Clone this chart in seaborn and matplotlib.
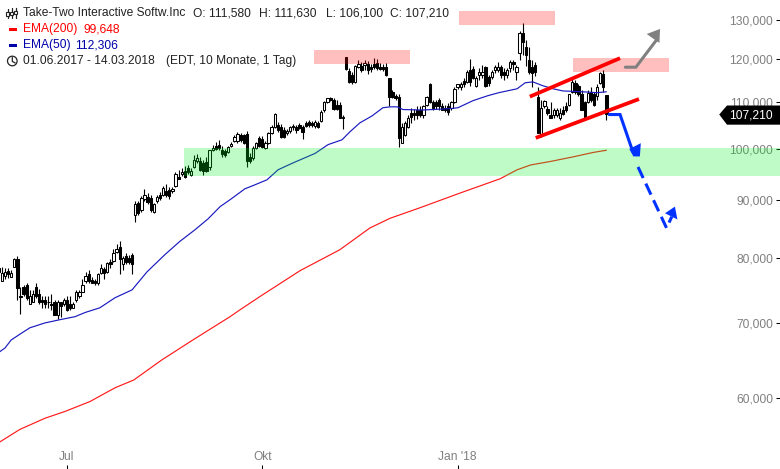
import matplotlib
matplotlib.use("Agg")
import matplotlib.pyplot as plt
from matplotlib.transforms import Affine2D
from matplotlib.patches import Circle, Rectangle
import numpy as np
import pandas as pd
import seaborn as sns

# Daily candles (prices in thousands of the quote unit), one per trading day
opens = [78.4,76.2,77.1,77.9,76.9,78.5,79.7,73.9,75.4,75.6,72.7,73.1,75.4,74.2,73.4,73.3,73,72.7,73.1,71.2,
73,72.7,73.4,72.8,72.2,73.3,73.9,74.5,76.2,77.3,76.5,76.3,75.9,77.6,78.2,77.7,79.3,79.5,81,81.8,
79,80.2,80,80.5,87.2,89.5,88.1,90.2,90.6,90.4,87.9,89.9,91,91,91.7,91.9,91.7,92.6,94.4,95,
95.6,96,94.8,96.2,97.5,97.5,97.1,97.3,96.2,99.6,100.6,100.8,99.8,99.4,99.2,100.6,101.6,101.6,102.9,102.9,
103.1,98.2,98,100.2,102.2,102,100.2,101.2,103.3,104.6,105,104.6,103.9,103.3,103.7,104.8,104.6,105,104.6,105.4,
105.6,105.4,104.8,105.4,105.9,108.1,109.9,111,110.5,109.4,109.4,106.7,120.6,117.2,116.3,114.6,118.2,118.4,118.7,118.9,
118.2,118.9,119.2,118.2,118.2,118.2,115.6,112.3,111.4,111.2,101.2,102.9,104.6,107.6,107.6,108.1,108.3,107.2,109.4,114,
109.9,109.9,110.5,109,108.7,109,108.7,109.9,113.3,113.5,114.9,114.6,117.5,117.7,113.7,116.3,116.3,118.2,115.8,115.8,
117.5,117.5,118.2,117,116.3,117.9,119.4,117,121.6,126.7,123.1,119.9,118.2,118.7,111.2,102.6,109,108.5,107,107.2,
107.2,106.5,108.3,109,109.4,112.3,114.4,113.7,111.7,109.9,109.9,112.3,111.7,111.4,114.4,116.5,111.58]
highs = [78.7,78.5,78.4,78.4,78,80,80.3,75.4,75.7,75.9,74.9,74.8,75.9,75.1,74,73.9,74,74.2,73.3,73.4,
73.1,73.6,73.9,73.9,73.1,74.9,74.8,76.6,77.7,78,76.9,76.6,77.6,79,78.5,79.3,79.7,81.5,82.3,82.8,
80.3,80.7,80.5,80.8,89.9,89.9,90.8,92.1,91.3,91,89.5,91,91.5,92.6,93,92.4,92.4,95.4,95.8,96,
96.4,96.7,96,98.6,98.8,98.2,97.7,98.2,99.8,100.8,101.4,101.8,100.6,100,100.6,101.4,102.9,103.5,103.3,103.1,
103.7,99,100.6,101.4,102.6,102.6,101.6,103.5,105,107.6,105.6,105.2,104.6,104.1,104.8,105.2,105,105.4,105,105.9,
106.1,105.9,106.1,105.9,108.3,110.1,111,111.2,111,110.5,109.9,107,120.6,117.9,117,118.7,119.9,119.4,119.9,119.7,
118.9,120.4,120.1,119.2,118.9,119.2,115.6,112.8,111.9,111.7,105.4,105.9,107.2,108.7,108.5,109,109,109.4,111.4,114.4,
110.5,110.5,111,109.7,109.4,109.7,110.3,113.3,114.2,114.6,115.6,117.5,120.1,118.4,116.1,117.9,118.7,118.4,116.3,117.5,
118.7,119.4,118.7,117.9,117.9,119.9,119.9,118.7,127.2,129.4,124.9,123.1,119.9,119.4,113.5,110.5,110.5,109,109.9,108.7,
108.7,108.7,109.2,109.9,111.7,115.6,115.1,114.2,112.8,110.1,112.8,113.3,112.3,114,117,117.5,111.63]
lows = [77.4,76.2,76.6,76.8,76.9,78.5,73.4,71.3,73.9,73.4,72.7,73,73.7,72.8,72.2,72.2,72.1,71.9,71.1,70.5,
70.8,72.5,71.8,71.9,72.1,73,73.7,74.5,76,76,75.9,75.7,75.7,77.4,76.6,77.6,78.4,79.3,80.8,77.4,
78,78.9,79,77.3,86.1,87.2,87.9,89.9,89.3,87.9,87.7,89.5,90.1,90.8,90.6,90.2,91.3,92.4,94,94.6,
94.2,95,94.6,96,97.1,95.6,94.8,95.4,95.8,99.4,99.6,99.8,98.2,98.2,99,100.4,101.4,101.2,101.4,101,
96.2,97.1,97.7,100,100.4,100.2,100,101,103.1,104.3,103.5,102.2,102.2,102.9,103.3,103.9,103.3,104.1,102,104.6,
104.6,104.6,104.3,104.3,105.6,107.8,109.7,110.1,108.3,108.3,106.5,104.1,117.5,114.4,114,114.4,117.9,117,117.5,116.5,
117,117.7,117.5,117.5,117.2,116.1,109,110.8,110.5,100.4,101.2,102.6,104.3,105.4,106.1,106.3,106.7,106.5,109.2,109.7,
108.3,108.5,108.3,108.1,107.8,107.2,108.1,109.7,113,112.8,113.5,114.4,113.7,115.3,113.5,115.1,115.6,113.3,113.7,115.3,
116.8,117,115.6,115.1,115.6,117,117.5,115.1,119.9,121.1,118.4,116.5,113.5,116.1,103.3,102.4,108.7,107,106.5,106.5,
106.7,106.1,107,107.8,109.2,112.1,111.9,111.4,108.1,106.1,109.7,109.9,109.2,110.5,114.2,112.3,106.10]
closes = [77.7,77.6,77.7,77.4,77.6,79.8,75.2,73.8,74.3,73.7,74,74.2,73.9,73,73,72.8,73.1,72.6,71.2,73.1,
72.5,73.4,71.9,72.1,72.8,74.6,74.5,75.7,77.1,76.2,76,75.9,77.4,78.4,77.6,79.2,78.9,80.8,81.5,79.7,
80,79.3,79.3,78.9,89.2,87.7,90.4,91,89.7,88.1,89.2,90.6,90.4,92.3,91,90.8,92.1,95,94,95.4,
94.4,95.4,95.6,97.7,98,95.8,95.6,95.6,99.6,100.2,100,100.2,98.8,98.6,100.4,101,102.4,103.1,101.8,101.2,
97.5,97.5,100.2,101.2,100.6,100.4,101.2,103.3,104.6,107.4,103.9,102.4,102.4,103.7,104.6,104.6,103.9,104.3,103.5,104.8,
105,105,105.6,104.6,107.8,109.9,110.8,110.5,108.5,108.5,106.5,106.5,117.7,114.6,114.6,118.5,118.9,117.5,119.2,117.5,
117.7,118.2,117.9,117.7,117.7,116.3,111.2,111.2,111,102.2,104.6,105.4,106.5,106.7,107,107.2,107.2,109.2,111.2,109.9,
108.7,109,109,108.3,108.1,107.8,109.9,113,114,114,114,117,114.6,115.6,115.6,117,117,113.7,114.4,117,
118.2,118.2,116.3,116.3,117.5,119.4,118.9,118.2,126.7,124.3,121.1,117,116.8,117,103.3,108.7,110.1,107.6,106.5,108.3,
108.3,107.6,107.4,108.3,111.7,114.6,112.3,111.7,108.3,106.5,112.1,110.5,109.4,113.5,116.8,113.5,107.21]

# Moving averages as read at points along each line
ema50_day = [0,2,4,6.8,10,14.9,19.7,24.6,27.8,32.6,37.5,43,47.8,53.6,58.4,63.3,67.5,71.4,74.6,79.4,82,86.5,90.1,94.9,
             102,106.2,110.7,113.3,116.5,120.4,123.9,126.2,128.5,130.4,136.8,145.5,148.1,153,157.7,161.3,167.2,169.8,
             172.3,175.5,178.8,182,188.5,193,196]
ema50_val = [65.9,66.5,67.6,68.4,69.3,70.0,70.46,70.9,71.5,72.2,73.7,74.9,77.7,80.5,82.7,84.7,86.6,88.8,90.06,92.1,92.7,93.8,95.75,97.1,
             99.0,100.8,101.8,103.5,105.4,106.9,108.7,108.9,108.9,108.3,108.2,108.5,108.7,110.3,111.4,112.1,113.0,114.4,
             114.6,113.7,113.0,112.5,112.3,112.1,112.306]
ema200_day = [0,6.8,14.9,21.3,29.4,37.5,43.6,52.6,62.6,74.6,77.8,84.3,97.2,110,119.7,126.2,135.9,148.8,161.7,167.2,171.6,178,185.2,191.7,196]
ema200_val = [54.8,56.3,57.6,58.4,59.6,61.3,62.3,64.9,67.6,70.9,71.9,73.9,77.9,81.3,85.0,86.7,88.6,91.3,94.0,95.75,96.7,97.4,98.3,99.2,99.648]

# Drawn zones: first day, last day, low price, high price
red_zones = [(101.7,132.6,118.9,122.4),(148.5,179.4,128.7,132.5),(185.2,216.2,116.9,120.3)]
green_zone = (59.7,252.0,94.5,100.1)
# Drawn lines and arrows (day, price)
channel_upper = ([171.3,200.4],[111.2,120.3])
channel_lower = ([173.2,206.5],[102.2,110.65])
gray_line = ([202.1,205.5,212.2],[118.1,118.1,124.9])
gray_head = ([209,213.3,213.1],[126.4,127.7,124.1])
blue_line = ([196.9,200.4,204.5],[107.2,107.2,99.4])
blue_head = ([203.4,207.1,206.8,204.7],[99.9,101.1,98.4,98.4])
dash_line = ([206.2,215.4,217.1],[96.3,85.0,87.0])
dash_head = ([214.9,218.1,218.9],[87.6,88.8,86.5])
tag_shape = ([232.4,234.9,252,252,234.9],[107.21,109.2,109.2,105.0,105.0])

y_ticks = [60,70,80,90,100,110,120,130]
y_tick_labels = ["60,000","70,000","80,000","90,000","100,000","110,000","120,000","130,000"]
x_ticks = [22,85,148]
x_tick_labels = ["Jul","Okt","Jan '18"]

sns.set_theme(style="white")
plt.rcParams["font.family"] = ["Liberation Sans", "DejaVu Sans"]
FS = 8.64
GRAY = "#808080"
DARK = "#222222"

fig = plt.figure(figsize=(7.8, 4.69), dpi=100)
ax = fig.add_axes([0, 0, 1, 1])

candles = pd.DataFrame({"open": opens, "high": highs, "low": lows, "close": closes})
candles["day"] = np.arange(len(candles))
candles["bottom"] = candles[["open", "close"]].min(axis=1)
candles["top"] = candles[["open", "close"]].max(axis=1)
up = candles["close"] >= candles["open"]

ax.vlines(candles["day"], candles["low"], candles["high"], color="black", lw=0.8, zorder=2)
ax.bar(candles["day"], candles["top"] - candles["bottom"], bottom=candles["bottom"], width=0.72,
       color=["white" if u else "black" for u in up], edgecolor="black", linewidth=0.75, zorder=3)

sns.lineplot(x=ema50_day, y=ema50_val, ax=ax, color="#1a1ac0", lw=0.85, zorder=4)
sns.lineplot(x=ema200_day, y=ema200_val, ax=ax, color="#ff1a1a", lw=0.85, zorder=4)

ax.set_yscale("log")
ax.set_xlim(0.39, 252.0)
ax.set_ylim(51.92, 135.5)

for x0, x1, y0, y1 in red_zones:
    ax.fill_between([x0, x1], y0, y1, color="#ff0000", alpha=0.25, lw=0, zorder=5)
ax.fill_between(green_zone[:2], green_zone[2], green_zone[3], color="#00f020", alpha=0.25, lw=0, zorder=5)

for line in (channel_upper, channel_lower):
    ax.plot(*line, color="#ff0000", lw=2.7, solid_capstyle="butt", zorder=6)
ax.plot(*gray_line, color="#808080", lw=2.2, solid_joinstyle="miter", zorder=6)
ax.fill(*gray_head, color="#808080", lw=0, zorder=6)
ax.plot(*blue_line, color="#0033ff", lw=2.2, solid_joinstyle="miter", zorder=6)
ax.fill(*blue_head, color="#0033ff", lw=0, zorder=6)
ax.plot(*dash_line, color="#0033ff", lw=2.2, linestyle=(0, (4, 2)), zorder=6)
ax.fill(*dash_head, color="#0033ff", lw=0, zorder=6)
ax.fill(*tag_shape, color="black", lw=0, zorder=7)

ax.yaxis.tick_right()
ax.minorticks_off()
ax.set_yticks(y_ticks)
ax.set_yticklabels(y_tick_labels, ha="right")
ax.yaxis.set_minor_locator(matplotlib.ticker.NullLocator())
ax.set_xticks(x_ticks)
ax.set_xticklabels(x_tick_labels)
ax.tick_params(axis="y", which="major", direction="in", length=3, width=0.75, color="black",
               pad=-5, labelsize=FS, labelcolor=GRAY, left=False, right=True)
ax.tick_params(axis="x", which="major", direction="in", length=3, width=0.75, color="black",
               pad=-13, labelsize=FS, labelcolor=GRAY, bottom=True)
ax.set_xlabel("")
ax.set_ylabel("")
for spine in ax.spines.values():
    spine.set_visible(False)
ax.grid(False)

# Header block, placed in pixels from the top-left corner
px = Affine2D().scale(1, -1).translate(0, 469)
def label(x, y, s, color=DARK, ha="left"):
    ax.text(x, y, s, transform=px, color=color, fontsize=FS, ha=ha, va="center", zorder=9, clip_on=False)

label(23, 13, "Take-Two Interactive Softw.Inc")
label(193, 13, "O: 111,580")
label(259, 13, "H: 111,630")
label(326, 13, "L: 106,100")
label(390, 13, "C: 107,210")
label(23, 29, "EMA(200)", "#ff0000")
label(83, 29, "99,648", "#ff0000")
label(23, 45, "EMA(50)", "#0000aa")
label(75, 45, "112,306", "#0000aa")
label(23, 61, "01.06.2017 - 14.03.2018")
label(166, 61, "(EDT, 10 Monate, 1 Tag)")
label(773, 115.5, "107,210", "white", ha="right")

ax.add_artist(Rectangle((9, 28), 8, 2.6, transform=px, color="#ff0000", lw=0))
ax.add_artist(Rectangle((9, 44), 8, 2.6, transform=px, color="#0000aa", lw=0))
ax.add_artist(Circle((12.3, 61), 4.8, transform=px, fill=False, ec=DARK, lw=0.9))
for xs, ys in (([12.3, 12.3, 15.2], [57.5, 61.4, 63]),
               ([7.5, 7.5], [9, 17.5]), ([11.5, 11.5], [7.5, 17.5]), ([15.5, 15.5], [7.5, 17.5])):
    ax.plot(xs, ys, transform=px, color=DARK, lw=0.9, clip_on=False, zorder=9)
for cx, cy in ((7.5, 14), (11.5, 13.5), (15.5, 12.5)):
    ax.add_artist(Rectangle((cx - 1.5, cy - 1.7), 3, 3.4, transform=px, fc="white", ec=DARK, lw=0.8, zorder=10))

fig.savefig("out.png", dpi=100)
